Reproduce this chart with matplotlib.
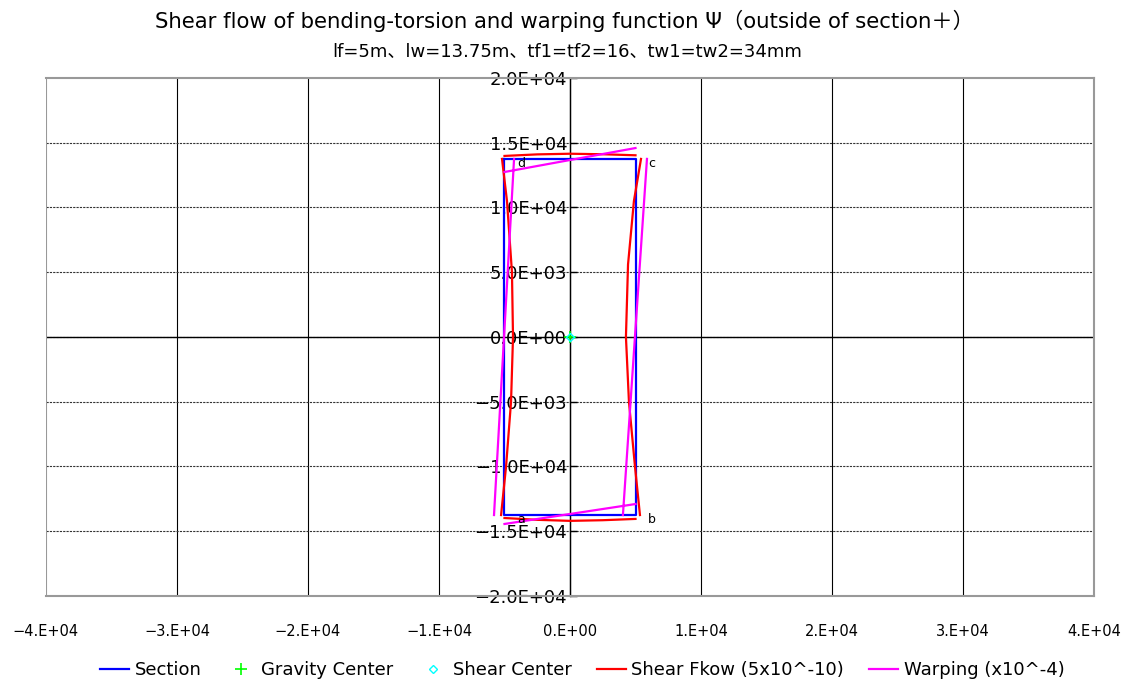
import matplotlib
matplotlib.use('Agg')
import matplotlib.pyplot as plt
import numpy as np

plt.rcParams['font.family'] = ['DejaVu Sans', 'Noto Sans CJK JP']

# box section outline (mm)
sec_x = [-5000, 5000, 5000, -5000, -5000]
sec_y = [13750, 13750, -13750, -13750, 13750]

# gravity / shear centre
gc_x, gc_y = 0, 0
sc_x, sc_y = 0, 0

# shear flow, drawn along each wall (top, left, right, bottom)
flow_top_x = [-5000, -2500, 0, 2500, 5000]
flow_top_y = [13980, 14100, 14150, 14110, 14030]
flow_left_x = [-5190, -4810, -4430, -4350, -4500, -4880, -5260]
flow_left_y = [13750, 10500, 5000, 0, -5000, -10000, -13750]
flow_right_x = [5420, 4880, 4430, 4270, 4500, 4960, 5340]
flow_right_y = [13750, 10500, 5600, 0, -5000, -10000, -13750]
flow_bot_x = [-5000, -2500, 0, 2500, 5000]
flow_bot_y = [-13980, -14120, -14200, -14150, -14050]

# warping function, one straight segment per wall
warp_top_x = [-5000, 5000]
warp_top_y = [12740, 14590]
warp_left_x = [-4270, -5800]
warp_left_y = [13750, -13750]
warp_right_x = [5875, 4040]
warp_right_y = [13750, -13750]
warp_bot_x = [-5000, 5000]
warp_bot_y = [-14440, -12900]

corner_names = ['a', 'b', 'c', 'd']
corner_x = [-5000, 5000, 5000, -5000]
corner_y = [-13750, -13750, 13750, 13750]


def joined(*parts):
    out = []
    for p in parts:
        out += list(p) + [np.nan]
    return out[:-1]


def xfmt(v, pos):
    s = f'{v:.0E}'.replace('E', '.E')
    return s.replace('-', '\u2212', 1) if v < 0 else s


def yfmt(v, pos):
    s = f'{v:.1E}'
    return s.replace('-', '\u2212', 1) if v < 0 else s


fig = plt.figure(figsize=(11.35, 6.84), dpi=100)
ax = fig.add_axes([0.0405, 0.1287, 0.9234, 0.7573])

ax.set_xlim(-40000, 40000)
ax.set_ylim(-20000, 20000)
ax.set_xticks(np.arange(-40000, 40001, 10000))
ax.set_yticks(np.arange(-20000, 20001, 5000))

for xv in np.arange(-30000, 40000, 10000):
    ax.axvline(xv, color='black', lw=0.8, zorder=0)
for yv in np.arange(-15000, 20000, 5000):
    ax.axhline(yv, color='#333333', lw=0.8, ls=(0, (2, 1)), zorder=0)
ax.axhline(0, color='black', lw=1.0, zorder=1)
ax.axvline(-40000, color='#999999', lw=1.5, zorder=1)

ax.spines['left'].set_position(('data', 0))
ax.spines['left'].set_color('black')
ax.spines['left'].set_linewidth(1.0)
for s in ['top', 'right', 'bottom']:
    ax.spines[s].set_color('#999999')
    ax.spines[s].set_linewidth(1.5)

ax.xaxis.set_major_formatter(xfmt)
ax.yaxis.set_major_formatter(yfmt)
ax.tick_params(axis='x', length=0, pad=20, labelsize=10.5)
ax.tick_params(axis='y', direction='in', length=5, width=1, pad=2, labelsize=13)

ax.plot(sec_x, sec_y, color='#0000ff', lw=1.6, label='Section', zorder=3)
ax.plot(gc_x, gc_y, ls='none', marker='+', ms=8, color='#00ff00', mew=1.2, label='Gravity Center', zorder=4)
ax.plot(sc_x, sc_y, ls='none', marker='D', ms=4, mfc='none', mec='#00ffff', mew=1, label='Shear Center', zorder=4)
ax.plot(joined(flow_top_x, flow_left_x, flow_right_x, flow_bot_x),
        joined(flow_top_y, flow_left_y, flow_right_y, flow_bot_y),
        color='#ff0000', lw=1.6, label='Shear Fkow (5x10^-10)', zorder=5)
ax.plot(joined(warp_top_x, warp_left_x, warp_right_x, warp_bot_x),
        joined(warp_top_y, warp_left_y, warp_right_y, warp_bot_y),
        color='#ff00ff', lw=1.6, label='Warping (x10^-4)', zorder=6)

for n, cx, cy in zip(corner_names, corner_x, corner_y):
    ax.annotate(n, (cx, cy), xytext=(12, -3), textcoords='offset points',
                ha='center', va='center', fontsize=9, color='black', zorder=7)

fig.text(0.497, 0.97, 'Shear flow of bending-torsion and warping function Ψ（outside of section＋）',
         ha='center', va='center', fontsize=15.3)
fig.text(0.5, 0.924, 'lf=5m、lw=13.75m、tf1=tf2=16、tw1=tw2=34mm',
         ha='center', va='center', fontsize=13)

fig.legend(loc='center', bbox_to_anchor=(0.513, 0.0205), ncol=5, frameon=False,
           fontsize=13, handlelength=1.6, handletextpad=0.3, columnspacing=1.4)

fig.savefig('out.png', dpi=100)
